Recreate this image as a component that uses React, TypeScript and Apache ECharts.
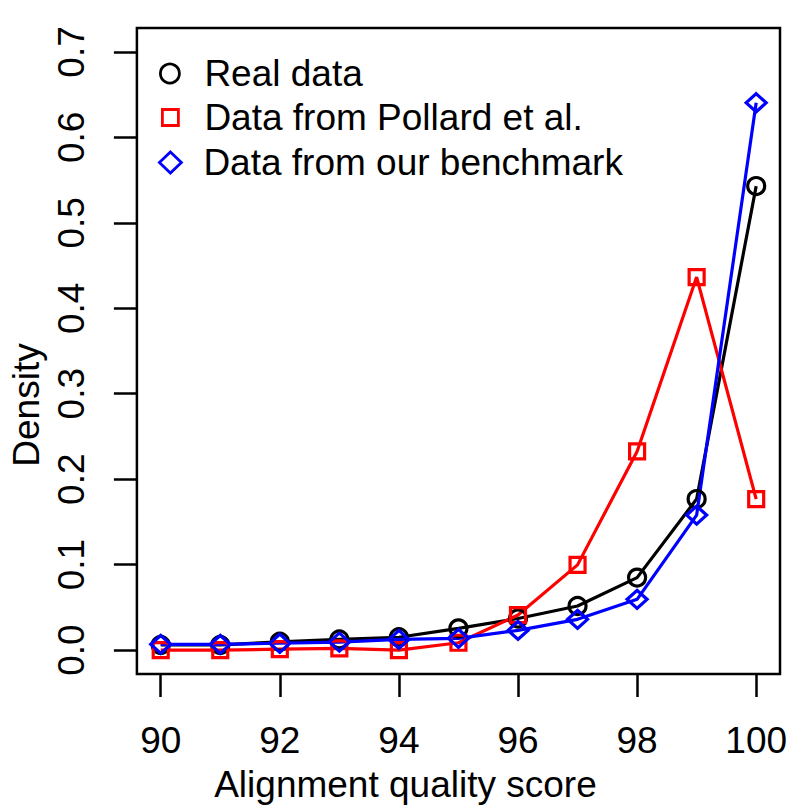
import React, { useEffect, useRef } from 'react'
import * as echarts from 'echarts'

// Alignment quality score (x) and density per source
const scores = [90, 91, 92, 93, 94, 95, 96, 97, 98, 99, 100]
const realData = [0.006, 0.006, 0.0097, 0.0125, 0.015, 0.0254, 0.037, 0.0516, 0.0848, 0.1767, 0.543]
const pollardData = [0, 0, 0.001, 0.002, 0, 0.0086, 0.041, 0.0997, 0.2325, 0.4365, 0.1767]
const benchmarkData = [0.0067, 0.0067, 0.008, 0.0094, 0.0125, 0.0137, 0.023, 0.036, 0.0594, 0.158, 0.6405]

const xTicks = [90, 92, 94, 96, 98, 100]
const yTicks = [0, 0.1, 0.2, 0.3, 0.4, 0.5, 0.6, 0.7]

const seriesNames = ['Real data', 'Data from Pollard et al.', 'Data from our benchmark']

const FONT = "'Liberation Sans', Arial, Helvetica, sans-serif"
const FS = 37

const toPairs = (vals: number[]) => scores.map((s, i) => [s, vals[i]])

const App = () => {
  const chartRef = useRef<HTMLDivElement>(null)

  useEffect(() => {
    document.body.style.margin = '0'
    if (!chartRef.current) return
    const chart = echarts.init(chartRef.current, undefined, { renderer: 'svg' })

    const legendText = {
      color: '#000',
      fontFamily: FONT,
      fontSize: FS,
      lineHeight: FS,
    }

    chart.setOption({
      animation: false,
      backgroundColor: '#fff',
      textStyle: { fontFamily: FONT },
      grid: {
        left: 135,
        right: 28,
        top: 28,
        bottom: 134,
        show: true,
        borderColor: '#000',
        borderWidth: 2.5,
        backgroundColor: 'transparent',
      },
      legend: [
        {
          data: [{ name: seriesNames[0], icon: 'circle', itemStyle: { color: 'transparent', borderColor: '#000', borderWidth: 2.8 } }],
          left: 159,
          top: 55,
          padding: 0,
          itemWidth: 19,
          itemHeight: 19,
          textStyle: { ...legendText, padding: [0, 0, 0, 20] },
          selectedMode: false,
        },
        {
          data: [{ name: seriesNames[1], icon: 'rect', itemStyle: { color: 'transparent', borderColor: '#ff0000', borderWidth: 2.8 } }],
          left: 161,
          top: 99,
          padding: 0,
          itemWidth: 16,
          itemHeight: 16,
          textStyle: { ...legendText, padding: [0, 0, 0, 21] },
          selectedMode: false,
        },
        {
          data: [{ name: seriesNames[2], icon: 'diamond', itemStyle: { color: 'transparent', borderColor: '#0000ff', borderWidth: 2.8 } }],
          left: 158,
          top: 144,
          padding: 0,
          itemWidth: 22,
          itemHeight: 21,
          textStyle: { ...legendText, padding: [0, 0, 0, 17] },
          selectedMode: false,
        },
      ],
      xAxis: {
        type: 'value',
        min: 89.6,
        max: 100.4,
        name: 'Alignment quality score',
        nameLocation: 'middle',
        nameGap: 92,
        // shift the title left so it is centred on the figure, as in the original
        nameTextStyle: { color: '#000', fontSize: FS, fontFamily: FONT, padding: [0, 106, 0, 0] },
        axisLine: { show: false, onZero: false },
        axisTick: {
          show: true,
          length: 23,
          customValues: xTicks,
          lineStyle: { color: '#000', width: 2.5 },
        },
        axisLabel: {
          customValues: xTicks,
          margin: 48,
          color: '#000',
          fontSize: FS,
          fontFamily: FONT,
        },
        splitLine: { show: false },
      },
      yAxis: {
        type: 'value',
        min: -0.028,
        max: 0.728,
        name: 'Density',
        nameLocation: 'middle',
        nameGap: 90,
        nameTextStyle: { color: '#000', fontSize: FS, fontFamily: FONT, padding: [0, 108, 0, 0] },
        axisLine: { show: false, onZero: false },
        axisTick: {
          show: true,
          length: 23,
          customValues: yTicks,
          lineStyle: { color: '#000', width: 2.5 },
        },
        axisLabel: {
          customValues: yTicks,
          rotate: 90,
          margin: 47,
          color: '#000',
          fontSize: FS,
          fontFamily: FONT,
          formatter: (v: number) => v.toFixed(1),
        },
        splitLine: { show: false },
      },
      series: [
        {
          name: seriesNames[0],
          type: 'line',
          data: toPairs(realData),
          symbol: 'circle',
          symbolSize: 17,
          lineStyle: { color: '#000', width: 3.2 },
          itemStyle: { color: 'transparent', borderColor: '#000', borderWidth: 3.2 },
        },
        {
          name: seriesNames[1],
          type: 'line',
          data: toPairs(pollardData),
          symbol: 'rect',
          symbolSize: 15,
          lineStyle: { color: '#ff0000', width: 3.2 },
          itemStyle: { color: 'transparent', borderColor: '#ff0000', borderWidth: 3.2 },
        },
        {
          name: seriesNames[2],
          type: 'line',
          data: toPairs(benchmarkData),
          symbol: 'diamond',
          symbolSize: [20, 18],
          lineStyle: { color: '#0000ff', width: 3.2 },
          itemStyle: { color: 'transparent', borderColor: '#0000ff', borderWidth: 3.2 },
        },
      ],
    })

    return () => {
      chart.dispose()
    }
  }, [])

  return <div ref={chartRef} style={{ width: '808px', height: '808px' }} />
}

export default App
